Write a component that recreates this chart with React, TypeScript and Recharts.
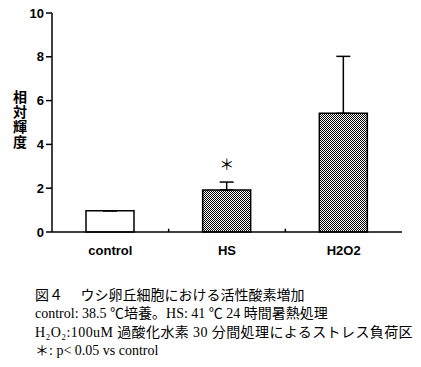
import React from "react";
import { Bar, BarChart, Cell, ErrorBar, LabelList, ReferenceLine, XAxis, YAxis } from "recharts";

const categories = ["control", "HS", "H2O2"];
const means = [0.97, 1.92, 5.42];
const upperErrors = [0, 0.36, 2.6];
const marks = ["", "＊", ""];
const yTicks = [0, 2, 4, 6, 8, 10];

const captionLines = [
  "図４　 ウシ卵丘細胞における活性酸素増加",
  "control: 38.5 ℃培養。HS: 41 ℃ 24 時間暑熱処理",
  "H₂O₂:100uM 過酸化水素 30 分間処理によるストレス負荷区",
  "＊: p< 0.05 vs control",
];

const data = categories.map((name, i) => ({
  name,
  value: means[i],
  err: [0, upperErrors[i]],
  mark: marks[i],
}));

const sans = "'Liberation Sans', 'Noto Sans CJK JP', sans-serif";
const serif = "'Liberation Serif', 'Noto Sans CJK JP', serif";

function StarLabel(props: any) {
  const { x, y, width, value } = props;
  if (!value) return null;
  return (
    <text x={x + width / 2} y={y - 20} textAnchor="middle" fontSize={15} fill="#000" fontFamily={sans}>
      {value}
    </text>
  );
}

export default function App() {
  return (
    <div style={{ position: "absolute", top: 0, left: 0, width: 421, height: 367, background: "#fff", overflow: "hidden" }}>
      <BarChart
        width={421}
        height={270}
        data={data}
        margin={{ top: 13, right: 19, bottom: 0, left: 12 }}
        barSize={48}
      >
        <defs>
          <pattern id="checker" width={2} height={2} patternUnits="userSpaceOnUse">
            <rect width={2} height={2} fill="#fff" />
            <rect x={0} y={0} width={1} height={1} fill="#000" />
            <rect x={1} y={1} width={1} height={1} fill="#000" />
          </pattern>
        </defs>
        <XAxis
          dataKey="name"
          height={38}
          tickLine={false}
          tickMargin={8}
          axisLine={{ stroke: "#000", strokeWidth: 1.5 }}
          tick={{ fill: "#000", fontSize: 13, fontWeight: "bold", fontFamily: sans }}
        />
        <YAxis
          width={40}
          domain={[0, 10]}
          ticks={yTicks}
          interval={0}
          tickSize={6}
          axisLine={{ stroke: "#000", strokeWidth: 1.5 }}
          tickLine={{ stroke: "#000", strokeWidth: 1.5 }}
          tick={{ fill: "#000", fontSize: 13, fontWeight: "bold", fontFamily: sans }}
        />
        {categories.slice(1).map((c) => (
          <ReferenceLine
            key={c}
            position="start"
            segment={[
              { x: c, y: 0 },
              { x: c, y: 0.15 },
            ]}
            stroke="#000"
            strokeWidth={1.5}
          />
        ))}
        <Bar dataKey="value" stroke="#000" strokeWidth={1.5} isAnimationActive={false}>
          {data.map((d, i) => (
            <Cell key={d.name} fill={i === 0 ? "#fff" : "url(#checker)"} />
          ))}
          <ErrorBar dataKey="err" width={7} stroke="#000" strokeWidth={1.5} />
          <LabelList dataKey="mark" content={StarLabel} />
        </Bar>
      </BarChart>
      <div
        style={{
          position: "absolute",
          left: 12,
          top: 90,
          writingMode: "vertical-rl",
          fontFamily: "'Noto Sans CJK JP', sans-serif",
          fontWeight: "bold",
          fontSize: 14,
          lineHeight: "16px",
          letterSpacing: 1,
          color: "#000",
        }}
      >
        相対輝度
      </div>
      {captionLines.map((line, i) => (
        <div
          key={i}
          style={{
            position: "absolute",
            left: 35,
            top: 287 + i * 18.4,
            fontFamily: serif,
            fontSize: 14,
            lineHeight: "18px",
            whiteSpace: "nowrap",
            letterSpacing: i === 2 ? 0.4 : 0,
            color: "#000",
          }}
        >
          {line}
        </div>
      ))}
    </div>
  );
}
